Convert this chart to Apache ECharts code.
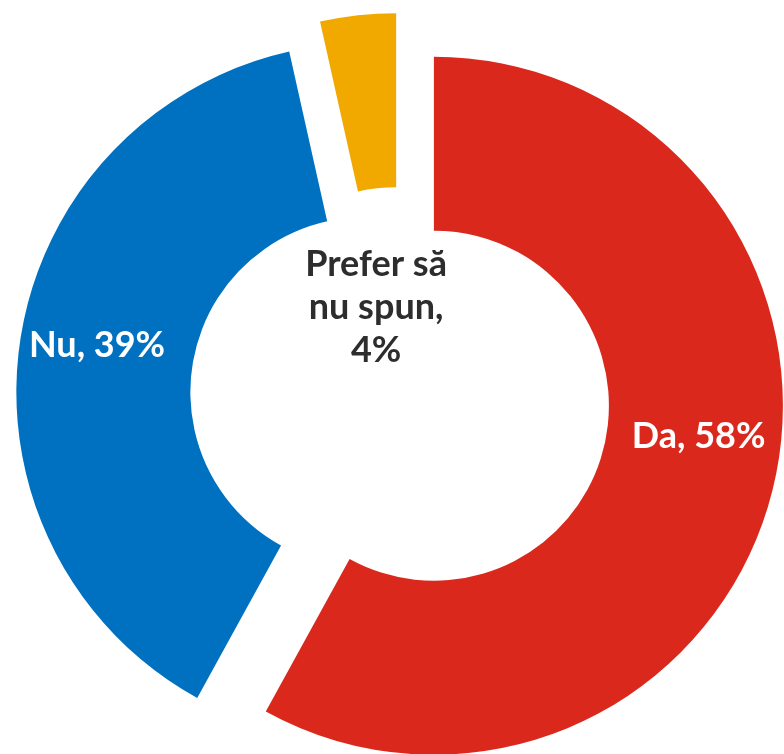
<!DOCTYPE html>
<html>
<head>
<meta charset="utf-8">
<script src="https://cdn.jsdelivr.net/npm/echarts@6/dist/echarts.min.js"></script>
<style>
html,body{margin:0;padding:0;background:#fff;}
#chart{width:784px;height:754px;}
</style>
</head>
<body>
<div id="chart"></div>
<script>
// categorii si valori (procente)
const categories = ['Da', 'Nu', 'Prefer să\nnu spun'];
const values = [58, 38.5, 3.5];
const colors = ['#DA291C', '#0071C1', '#F1A900'];
const labelColors = ['#ffffff', '#ffffff', '#2d2d2d'];
// deplasarea etichetelor fata de pozitia 'inside'
const labelShift = [[8, -35], [-6, -9], [9, 209]];

const chart = echarts.init(document.getElementById('chart'));

const seriesData = categories.map((name, i) => {
  return {
    name: name,
    value: values[i],
    selected: true,
    itemStyle: { color: colors[i] },
    label: { color: labelColors[i] }
  };
});

const option = {
  animation: false,
  backgroundColor: '#ffffff',
  series: [{
    type: 'pie',
    center: [400, 397],
    radius: [175, 349],
    startAngle: 90,
    clockwise: true,
    selectedMode: 'multiple',
    selectedOffset: 35,
    avoidLabelOverlap: false,
    emphasis: { disabled: true },
    itemStyle: { borderWidth: 0 },
    label: {
      show: true,
      position: 'inside',
      fontFamily: 'Lato',
      fontWeight: 'bold',
      fontSize: 36,
      lineHeight: 43,
      align: 'center',
      formatter: function (p) {
        const sep = p.dataIndex === 2 ? ',\n' : ', ';
        return p.name + sep + Math.round(p.value) + '%';
      }
    },
    labelLine: { show: false },
    labelLayout: function (p) {
      const s = labelShift[p.dataIndex];
      return { dx: s[0], dy: s[1] };
    },
    data: seriesData
  }]
};

chart.setOption(option);
</script>
</body>
</html>
